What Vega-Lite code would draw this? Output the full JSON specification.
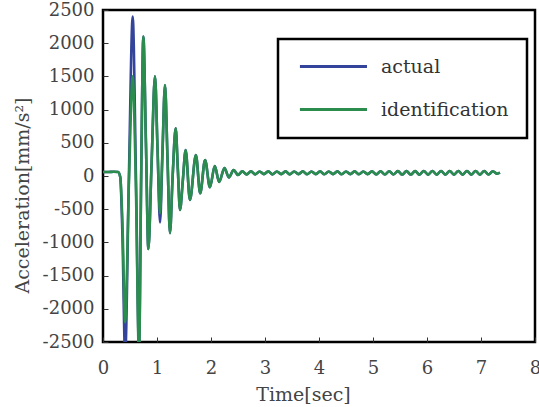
{
  "$schema": "https://vega.github.io/schema/vega-lite/v6.json",
  "width": 432,
  "height": 332,
  "autosize": "none",
  "padding": {"left": 103, "top": 10, "right": 4, "bottom": 65},
  "background": "white",
  "config": {
    "view": {"stroke": "black", "strokeWidth": 2.5},
    "axis": {
      "domain": false,
      "grid": false,
      "ticks": true,
      "tickSize": -5,
      "tickColor": "#333",
      "tickWidth": 1,
      "labelFont": "DejaVu Serif",
      "labelFontSize": 18,
      "labelColor": "#444",
      "titleFont": "DejaVu Serif",
      "titleFontSize": 19,
      "titleFontWeight": "normal",
      "titleColor": "#444"
    },
    "legend": {
      "orient": "none",
      "legendX": 175,
      "legendY": 29,
      "strokeColor": "black",
      "strokeWidth": 2.5,
      "fillColor": "white",
      "padding": 18,
      "labelFont": "DejaVu Serif",
      "labelFontSize": 19,
      "labelColor": "#333",
      "symbolType": "M-1,0H11",
      "symbolSize": 125,
      "symbolStrokeWidth": 3,
      "labelOffset": 66,
      "rowPadding": 23
    }
  },
  "data": {
    "values": [
      {"t": 0.0, "actual": 60, "identification": 60},
      {"t": 0.1, "actual": 60, "identification": 60},
      {"t": 0.2, "actual": 65, "identification": 65},
      {"t": 0.28, "actual": 60, "identification": 60},
      {"t": 0.32, "actual": -20, "identification": -20},
      {"t": 0.36, "actual": -900, "identification": -700},
      {"t": 0.41, "actual": -2700, "identification": -2200},
      {"t": 0.48, "actual": 0, "identification": -100},
      {"t": 0.55, "actual": 2400, "identification": 1500},
      {"t": 0.61, "actual": 0, "identification": -200},
      {"t": 0.667, "actual": -2600, "identification": -2700},
      {"t": 0.707, "actual": 0, "identification": 0},
      {"t": 0.747, "actual": 2100, "identification": 2100},
      {"t": 0.795, "actual": 500, "identification": 500},
      {"t": 0.84, "actual": -1100, "identification": -1100},
      {"t": 0.90, "actual": 200, "identification": 200},
      {"t": 0.963, "actual": 1500, "identification": 1500},
      {"t": 1.01, "actual": 400, "identification": 400},
      {"t": 1.056, "actual": -700, "identification": -560},
      {"t": 1.10, "actual": 300, "identification": 350},
      {"t": 1.148, "actual": 1370, "identification": 1370},
      {"t": 1.195, "actual": 250, "identification": 250},
      {"t": 1.24, "actual": -860, "identification": -860},
      {"t": 1.29, "actual": 0, "identification": 0},
      {"t": 1.346, "actual": 720, "identification": 720},
      {"t": 1.386, "actual": 100, "identification": 100},
      {"t": 1.426, "actual": -510, "identification": -510},
      {"t": 1.48, "actual": -50, "identification": -50},
      {"t": 1.53, "actual": 390, "identification": 390},
      {"t": 1.61, "actual": -360, "identification": -360},
      {"t": 1.72, "actual": 316, "identification": 316},
      {"t": 1.80, "actual": -260, "identification": -260},
      {"t": 1.89, "actual": 240, "identification": 240},
      {"t": 1.98, "actual": -170, "identification": -170},
      {"t": 2.07, "actual": 150, "identification": 150},
      {"t": 2.15, "actual": -90, "identification": -90},
      {"t": 2.25, "actual": 120, "identification": 120},
      {"t": 2.33, "actual": -20, "identification": -20},
      {"t": 2.42, "actual": 90, "identification": 90},
      {"t": 2.50, "actual": 15, "identification": 15},
      {"t": 2.58, "actual": 70, "identification": 70},
      {"t": 2.66, "actual": 25, "identification": 25},
      {"t": 2.74, "actual": 70, "identification": 70},
      {"t": 2.82, "actual": 25, "identification": 25},
      {"t": 2.90, "actual": 68, "identification": 68},
      {"t": 2.98, "actual": 28, "identification": 28},
      {"t": 3.06, "actual": 70, "identification": 70},
      {"t": 3.14, "actual": 25, "identification": 25},
      {"t": 3.22, "actual": 68, "identification": 68},
      {"t": 3.30, "actual": 28, "identification": 28},
      {"t": 3.38, "actual": 70, "identification": 70},
      {"t": 3.46, "actual": 25, "identification": 25},
      {"t": 3.54, "actual": 68, "identification": 68},
      {"t": 3.62, "actual": 28, "identification": 28},
      {"t": 3.70, "actual": 70, "identification": 70},
      {"t": 3.78, "actual": 26, "identification": 26},
      {"t": 3.86, "actual": 68, "identification": 68},
      {"t": 3.94, "actual": 28, "identification": 28},
      {"t": 4.02, "actual": 70, "identification": 70},
      {"t": 4.10, "actual": 26, "identification": 26},
      {"t": 4.18, "actual": 68, "identification": 68},
      {"t": 4.26, "actual": 28, "identification": 28},
      {"t": 4.34, "actual": 70, "identification": 70},
      {"t": 4.42, "actual": 26, "identification": 26},
      {"t": 4.50, "actual": 68, "identification": 68},
      {"t": 4.58, "actual": 28, "identification": 28},
      {"t": 4.66, "actual": 70, "identification": 70},
      {"t": 4.74, "actual": 26, "identification": 26},
      {"t": 4.82, "actual": 68, "identification": 68},
      {"t": 4.90, "actual": 28, "identification": 28},
      {"t": 4.98, "actual": 70, "identification": 70},
      {"t": 5.06, "actual": 25, "identification": 25},
      {"t": 5.14, "actual": 72, "identification": 72},
      {"t": 5.22, "actual": 24, "identification": 24},
      {"t": 5.30, "actual": 72, "identification": 72},
      {"t": 5.38, "actual": 24, "identification": 24},
      {"t": 5.46, "actual": 74, "identification": 74},
      {"t": 5.54, "actual": 22, "identification": 22},
      {"t": 5.62, "actual": 74, "identification": 74},
      {"t": 5.70, "actual": 22, "identification": 22},
      {"t": 5.78, "actual": 74, "identification": 74},
      {"t": 5.86, "actual": 20, "identification": 20},
      {"t": 5.94, "actual": 76, "identification": 76},
      {"t": 6.02, "actual": 20, "identification": 20},
      {"t": 6.10, "actual": 76, "identification": 76},
      {"t": 6.18, "actual": 20, "identification": 20},
      {"t": 6.26, "actual": 76, "identification": 76},
      {"t": 6.34, "actual": 20, "identification": 20},
      {"t": 6.42, "actual": 76, "identification": 76},
      {"t": 6.50, "actual": 20, "identification": 20},
      {"t": 6.58, "actual": 76, "identification": 76},
      {"t": 6.66, "actual": 20, "identification": 20},
      {"t": 6.74, "actual": 76, "identification": 76},
      {"t": 6.82, "actual": 20, "identification": 20},
      {"t": 6.90, "actual": 76, "identification": 76},
      {"t": 6.98, "actual": 20, "identification": 20},
      {"t": 7.06, "actual": 76, "identification": 76},
      {"t": 7.14, "actual": 22, "identification": 22},
      {"t": 7.22, "actual": 72, "identification": 72},
      {"t": 7.30, "actual": 35, "identification": 35},
      {"t": 7.35, "actual": 50, "identification": 50}
    ]
  },
  "transform": [{"fold": ["actual", "identification"], "as": ["series", "value"]}],
  "mark": {"type": "line", "strokeWidth": 2.6, "clip": true, "interpolate": "monotone"},
  "encoding": {
    "x": {
      "field": "t",
      "type": "quantitative",
      "scale": {"domain": [0, 8], "nice": false, "zero": false},
      "axis": {
        "title": "Time[sec]",
        "values": [0, 1, 2, 3, 4, 5, 6, 7, 8],
        "labelExpr": "'' + datum.value",
        "labelPadding": 22,
        "labelFlush": false,
        "titlePadding": 8,
        "titleX": 200
      }
    },
    "y": {
      "field": "value",
      "type": "quantitative",
      "scale": {"domain": [-2500, 2500], "nice": false},
      "axis": {
        "title": "Acceleration[mm/s²]",
        "values": [-2500, -2000, -1500, -1000, -500, 0, 500, 1000, 1500, 2000, 2500],
        "labelExpr": "'' + datum.value",
        "labelPadding": 14,
        "labelFlush": false,
        "titleX": -81,
        "titleY": 185,
        "titleAlign": "center",
        "titleBaseline": "middle",
        "titleAngle": -90
      }
    },
    "color": {
      "field": "series",
      "type": "nominal",
      "scale": {"domain": ["actual", "identification"], "range": ["#34449a", "#2a8d4e"]},
      "legend": {
        "title": null,
        "labelExpr": "datum.label == 'actual' ? '\u00a0\u00a0actual' : datum.label"
      }
    }
  }
}
